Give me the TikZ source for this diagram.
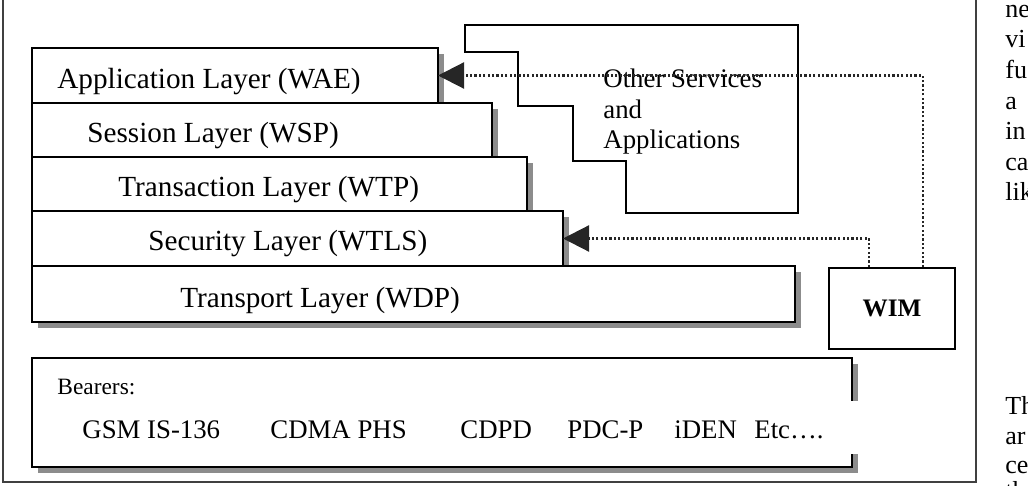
\documentclass[tikz,border=0pt]{standalone}
\usepackage{fontspec}
\setmainfont{Liberation Serif}
\usetikzlibrary{arrows.meta,shadows,calc}

\begin{document}
\begin{tikzpicture}[x=0.5pt, y=-0.5pt,
  layer/.style={draw, line width=0.9pt, fill=white, anchor=north west, inner sep=0pt, outer sep=0pt,
    drop shadow={shadow xshift=3pt, shadow yshift=-3pt, fill=black!45, opacity=1}},
  lbl/.style={anchor=base west, inner sep=0pt, font=\fontsize{14.6}{17}\selectfont},
  itemtext/.style={anchor=base west, inner sep=0pt, font=\fontsize{13.4}{15.25}\selectfont},
  link/.style={line width=1.1pt, black!85, dash pattern=on 1.1pt off 1.1pt, -{Triangle[length=13pt,width=13pt]}}]

  \useasboundingbox (0,0) rectangle (1028,486);
  \clip (0,0) rectangle (1028,486);

  % page frame
  \draw[line width=1pt, black!75] (3,-5) -- (3,482) -- (976,482) -- (976,-5);

  % protocol stack
  \node[layer, minimum width=203pt, minimum height=27.5pt] (app) at (32,48) {};
  \node[layer, minimum width=230pt, minimum height=27pt] (ses) at (32,103) {};
  \node[layer, minimum width=247.5pt, minimum height=27pt] (trn) at (32,157) {};
  \node[layer, minimum width=265.5pt, minimum height=27.5pt] (sec) at (32,211) {};
  \node[layer, minimum width=381.5pt, minimum height=28pt] (tpt) at (32,266) {};

  \node[lbl] (appt) at (57,89) {Application Layer (WAE)};
  \node[lbl] (sest) at (87,143) {Session Layer (WSP)};
  \node[lbl] (trnt) at (118,197) {Transaction Layer (WTP)};
  \node[lbl] (sect) at (148,251) {Security Layer (WTLS)};
  \node[lbl] (tptt) at (180,307) {Transport Layer (WDP)};

  % bearers
  \node[layer, minimum width=410pt, minimum height=54.5pt] (bearers) at (32,358) {};
  \fill[white] (845,401) rectangle (863,454);
  \node[anchor=base west, inner sep=0pt, font=\fontsize{11.7}{14}\selectfont] (bt) at (57,394) {Bearers:};
  \node[itemtext] (gsm) at (82,438) {GSM IS-136};
  \node[itemtext] (cdma) at (270,438) {CDMA PHS};
  \node[itemtext] (cdpd) at (460,438) {CDPD};
  \node[itemtext] (pdc) at (567,438) {PDC-P};
  \node[itemtext] (iden) at (674,438) {iDEN};
  \node[itemtext] (etc) at (754,438) {Etc….};

  % other services
  \draw[line width=0.9pt] (465,25) -- (798,25) -- (798,213) -- (626,213) -- (626,161) -- (573,161)
    -- (573,106) -- (518,106) -- (518,52) -- (465,52) -- cycle;
  \node[anchor=north west, inner sep=0pt, align=left, font=\fontsize{13.4}{15.25}\selectfont] (other)
    at (603,69) {Other Services\\and\\Applications};

  % WIM
  \node[draw, line width=0.9pt, minimum width=63pt, minimum height=40.5pt,
    font=\bfseries\fontsize{12.6}{15}\selectfont] (wim) at (892,308.5) {WIM};

  \draw[link] ($(wim.north)+(31,0)$) |- (app.east);
  \draw[link] ($(wim.north)+(-23,0)$) |- (sec.east);

  % running text beside the figure
  \foreach \w/\y in {ne/18, vi/48, fu/79, a/110, in/140, ca/171, lik/201, Th/414, ar/444, ce/473, th/499}
    \node[anchor=base west, inner sep=0pt, font=\fontsize{13}{15}\selectfont] (frag-\w) at (1005,\y) {\w};
\end{tikzpicture}
\end{document}
